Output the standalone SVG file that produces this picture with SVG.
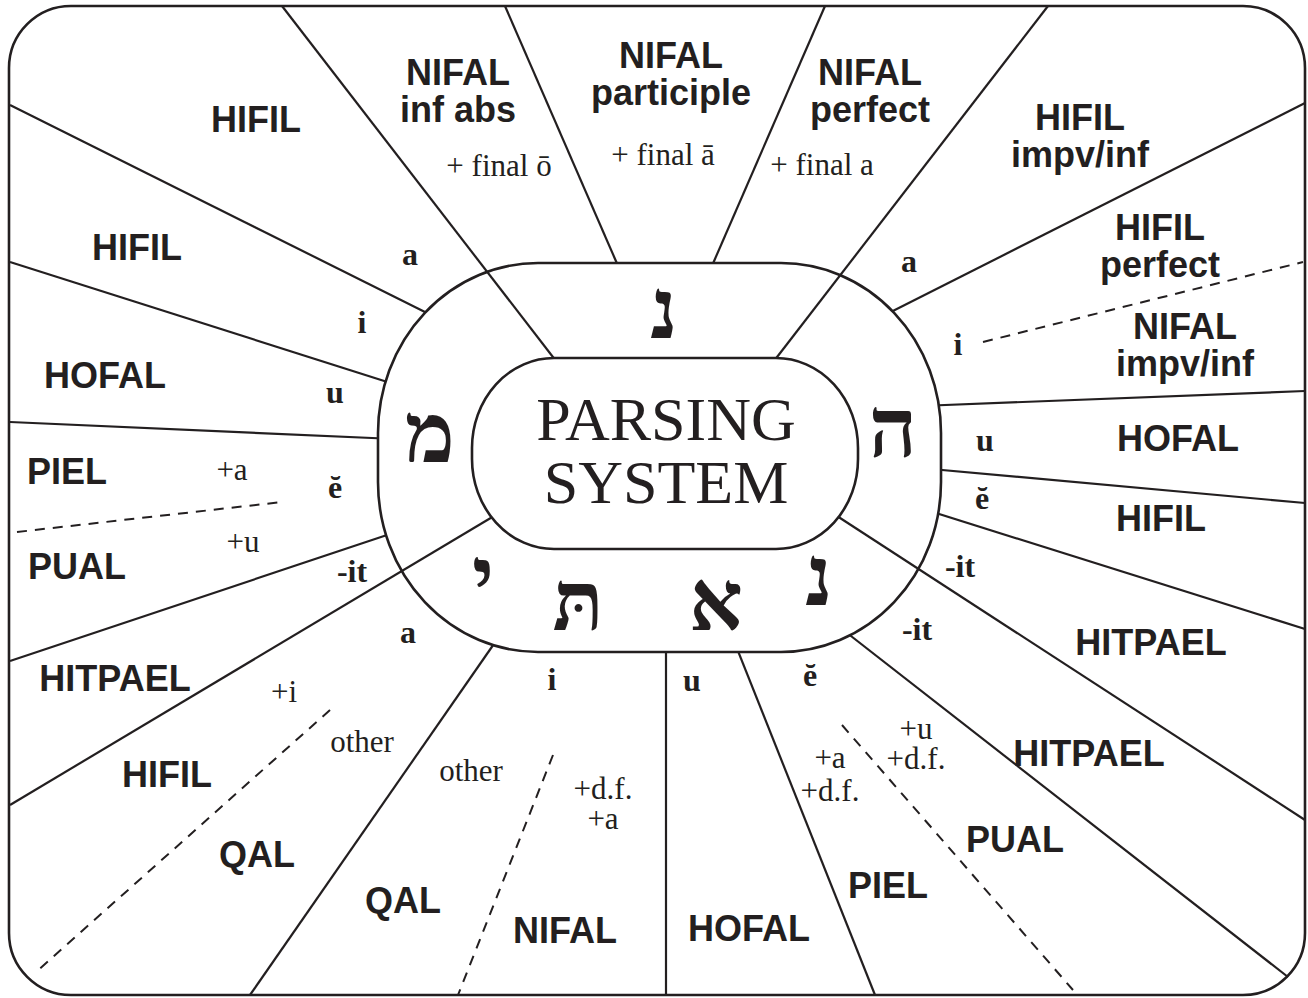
<svg xmlns="http://www.w3.org/2000/svg" width="1308" height="998" viewBox="0 0 1308 998">
<defs>
<style>
.ln{stroke:#231f20;stroke-width:2.2;fill:none}
.ds{stroke:#231f20;stroke-width:2;fill:none;stroke-dasharray:10 8}
.sh{fill:none;stroke:#231f20;stroke-width:2.6}
.shw{fill:#fff;stroke:#231f20;stroke-width:2.6}
.m{font-family:"Liberation Sans",Arial,sans-serif;font-weight:bold;font-size:36px;fill:#231f20;text-anchor:middle}
.v{font-family:"Liberation Serif","Times New Roman",serif;font-weight:bold;font-size:32px;fill:#231f20;text-anchor:middle}
.n{font-family:"Liberation Serif","Times New Roman",serif;font-size:31px;fill:#231f20;text-anchor:middle}
.h{font-family:"Liberation Serif","DejaVu Sans",serif;font-weight:bold;font-size:84px;fill:#231f20;text-anchor:middle}
.c{font-family:"Liberation Serif","Times New Roman",serif;font-size:62px;fill:#231f20;text-anchor:middle}
</style>
<clipPath id="outside"><path clip-rule="evenodd" d="M0 0H1308V998H0Z M538 263H781A160 170 0 0 1 941 433V482A160 170 0 0 1 781 652H538A160 170 0 0 1 378 482V433A160 170 0 0 1 538 263Z"/></clipPath>
</defs>
<rect width="1308" height="998" fill="#fff"/>
<g id="frame"><rect class="sh" x="9" y="6" width="1296" height="989" rx="62" ry="62"/></g>
<g id="ring"><path class="sh" d="M538 263H781A160 170 0 0 1 941 433V482A160 170 0 0 1 781 652H538A160 170 0 0 1 378 482V433A160 170 0 0 1 538 263Z"/></g>
<g id="connectors">
<g clip-path="url(#outside)">
<line class="ln" x1="10" y1="105" x2="445" y2="322"/>
<line class="ln" x1="10" y1="262" x2="400" y2="386"/>
<line class="ln" x1="10" y1="422" x2="395" y2="439"/>
<line class="ln" x1="10" y1="661" x2="405" y2="529"/>
<line class="ln" x1="250" y1="995" x2="505" y2="628"/>
<line class="ln" x1="666" y1="995" x2="666" y2="640"/>
<line class="ln" x1="875" y1="995" x2="734" y2="641"/>
<line class="ln" x1="1288" y1="977" x2="833" y2="622"/>
<line class="ln" x1="1305" y1="629" x2="920" y2="508"/>
<line class="ln" x1="1305" y1="503" x2="920" y2="468"/>
<line class="ln" x1="1305" y1="391" x2="920" y2="406"/>
<line class="ln" x1="1305" y1="103" x2="875" y2="320"/>
<line class="ln" x1="505" y1="6" x2="622" y2="275"/>
<line class="ln" x1="825" y1="6" x2="708" y2="275"/>
</g>
<line class="ln" x1="282" y1="6" x2="556" y2="361"/>
<line class="ln" x1="1048" y1="6" x2="774" y2="361"/>
<line class="ln" x1="10" y1="805" x2="494" y2="516"/>
<line class="ln" x1="1305" y1="820" x2="837" y2="516"/>
<line class="ds" x1="17" y1="532" x2="282" y2="502"/>
<line class="ds" x1="983" y1="342" x2="1303" y2="262"/>
<line class="ds" x1="330" y1="710" x2="36" y2="972"/>
<line class="ds" x1="553" y1="755" x2="458" y2="995"/>
<line class="ds" x1="842" y1="725" x2="1073" y2="990"/>
</g>
<g id="center">
<path class="shw" d="M554 358H776A82 90 0 0 1 858 448V459A82 90 0 0 1 776 549H554A82 90 0 0 1 472 459V448A82 90 0 0 1 554 358Z"/>
<text class="c" x="666" y="440">PARSING</text>
<text class="c" x="666" y="503">SYSTEM</text>
</g>
<g id="letters">
<text class="h" x="664" y="338">נ</text>
<text class="h" x="430" y="462">מ</text>
<text class="h" x="893" y="457">ה</text>
<text class="h" x="483" y="606">י</text>
<text class="h" x="578" y="630">תּ</text>
<text class="h" x="716" y="630">א</text>
<text class="h" x="819" y="605">נ</text>
</g>
<g id="stems">
<text class="m" x="256" y="132">HIFIL</text>
<text class="m" x="137" y="260">HIFIL</text>
<text class="m" x="458" y="85">NIFAL</text><text class="m" x="458" y="122">inf abs</text>
<text class="m" x="671" y="68">NIFAL</text><text class="m" x="671" y="105">participle</text>
<text class="m" x="870" y="85">NIFAL</text><text class="m" x="870" y="122">perfect</text>
<text class="m" x="1080" y="130">HIFIL</text><text class="m" x="1080" y="167">impv/inf</text>
<text class="m" x="1160" y="240">HIFIL</text><text class="m" x="1160" y="277">perfect</text>
<text class="m" x="1185" y="339">NIFAL</text><text class="m" x="1185" y="376">impv/inf</text>
<text class="m" x="105" y="388">HOFAL</text>
<text class="m" x="67" y="484">PIEL</text>
<text class="m" x="77" y="579">PUAL</text>
<text class="m" x="115" y="691">HITPAEL</text>
<text class="m" x="167" y="787">HIFIL</text>
<text class="m" x="257" y="867">QAL</text>
<text class="m" x="403" y="913">QAL</text>
<text class="m" x="565" y="943">NIFAL</text>
<text class="m" x="749" y="941">HOFAL</text>
<text class="m" x="888" y="898">PIEL</text>
<text class="m" x="1015" y="852">PUAL</text>
<text class="m" x="1089" y="766">HITPAEL</text>
<text class="m" x="1151" y="655">HITPAEL</text>
<text class="m" x="1161" y="531">HIFIL</text>
<text class="m" x="1178" y="451">HOFAL</text>
</g>
<g id="vowels">
<text class="v" x="410" y="265">a</text>
<text class="v" x="362" y="333">i</text>
<text class="v" x="335" y="403">u</text>
<text class="v" x="335" y="498">ĕ</text>
<text class="v" x="352" y="582">-it</text>
<text class="v" x="408" y="643">a</text>
<text class="v" x="552" y="690">i</text>
<text class="v" x="692" y="691">u</text>
<text class="v" x="810" y="686">ĕ</text>
<text class="v" x="917" y="640">-it</text>
<text class="v" x="960" y="577">-it</text>
<text class="v" x="982" y="509">ĕ</text>
<text class="v" x="985" y="451">u</text>
<text class="v" x="958" y="355">i</text>
<text class="v" x="909" y="272">a</text>
</g>
<g id="notes">
<text class="n" x="499" y="176">+ final ō</text>
<text class="n" x="663" y="165">+ final ā</text>
<text class="n" x="822" y="175">+ final a</text>
<text class="n" x="232" y="480">+a</text>
<text class="n" x="243" y="552">+u</text>
<text class="n" x="284" y="702">+i</text>
<text class="n" x="362" y="752">other</text>
<text class="n" x="471" y="781">other</text>
<text class="n" x="603" y="799">+d.f.</text>
<text class="n" x="603" y="829">+a</text>
<text class="n" x="830" y="768">+a</text>
<text class="n" x="830" y="801">+d.f.</text>
<text class="n" x="916" y="739">+u</text>
<text class="n" x="916" y="769">+d.f.</text>
</g>
</svg>
